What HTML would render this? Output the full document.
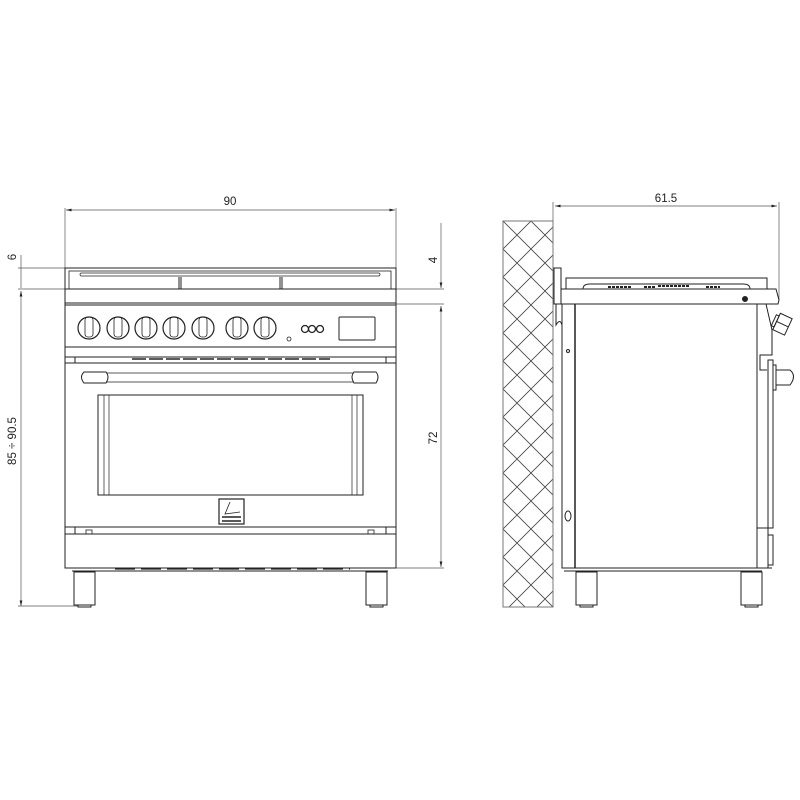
<!DOCTYPE html>
<html><head><style>body{margin:0;background:#fff}svg{display:block}</style></head>
<body>
<svg width="800" height="800" viewBox="0 0 800 800" xmlns="http://www.w3.org/2000/svg" font-family="Liberation Sans, sans-serif" font-size="11.5" fill="none" stroke="#222" stroke-width="1">
<defs>
<pattern id="h" width="28" height="28" patternUnits="userSpaceOnUse" x="503" y="221">
<path d="M0 0L28 28M28 0L0 28" stroke="#444" stroke-width="0.8"/>
</pattern>
<marker id="a" markerWidth="8" markerHeight="6" refX="8" refY="3" orient="auto-start-reverse"><path d="M0 1L8 3L0 5z" fill="#222" stroke="none"/></marker>
</defs>
<g stroke="#555" stroke-width="0.7">
<line x1="65" y1="208" x2="65" y2="268"/><line x1="396" y1="208" x2="396" y2="268"/>
<line x1="66" y1="210" x2="395" y2="210" marker-start="url(#a)" marker-end="url(#a)"/>
<line x1="21" y1="255" x2="21" y2="288"/>
<line x1="18" y1="268" x2="65" y2="268"/><line x1="18" y1="289" x2="65" y2="289"/>
<line x1="21" y1="291" x2="21" y2="606" marker-start="url(#a)" marker-end="url(#a)"/>
<line x1="18" y1="606" x2="78" y2="606"/>
<line x1="441" y1="223" x2="441" y2="288" marker-end="url(#a)"/>
<line x1="396" y1="289" x2="444" y2="289"/><line x1="396" y1="304" x2="444" y2="304"/>
<line x1="441" y1="306" x2="441" y2="567" marker-start="url(#a)" marker-end="url(#a)"/>
<line x1="396" y1="568" x2="444" y2="568"/>
</g>
<g fill="#222" stroke="none">
<text x="230" y="205" text-anchor="middle">90</text>
<text transform="translate(16,257) rotate(-90)" text-anchor="middle">6</text>
<text transform="translate(16,441) rotate(-90)" text-anchor="middle">85 ÷ 90.5</text>
<text transform="translate(437,260) rotate(-90)" text-anchor="middle">4</text>
<text transform="translate(437,438) rotate(-90)" text-anchor="middle">72</text>
<text x="666" y="202" text-anchor="middle">61.5</text>
</g>
<rect x="65" y="268" width="331" height="300"/>
<rect x="69" y="271" width="322" height="18" stroke-width="0.8"/>
<rect x="80" y="273" width="300" height="3" rx="1.5" stroke-width="0.7"/>
<line x1="179" y1="277" x2="179" y2="289"/><line x1="181" y1="277" x2="181" y2="289"/>
<line x1="280" y1="277" x2="280" y2="289"/><line x1="282" y1="277" x2="282" y2="289"/>
<line x1="65" y1="289" x2="396" y2="289"/>
<line x1="65" y1="303" x2="396" y2="303"/><line x1="65" y1="305" x2="396" y2="305"/>
<line x1="65" y1="347" x2="396" y2="347"/>
<g stroke-width="1.2">
<circle cx="89" cy="328" r="11"/><circle cx="118" cy="328" r="11"/><circle cx="146" cy="328" r="11"/><circle cx="174" cy="328" r="11"/><circle cx="203" cy="328" r="11"/><circle cx="237" cy="328" r="11"/><circle cx="265" cy="328" r="11"/>
</g>
<g stroke-width="0.8">
<rect x="85" y="317" width="8" height="20" rx="3"/><rect x="114" y="317" width="8" height="20" rx="3"/><rect x="142" y="317" width="8" height="20" rx="3"/><rect x="170" y="317" width="8" height="20" rx="3"/><rect x="199" y="317" width="8" height="20" rx="3"/><rect x="233" y="317" width="8" height="20" rx="3"/><rect x="261" y="317" width="8" height="20" rx="3"/>
</g>
<circle cx="305" cy="329" r="3.5" stroke-width="1.3"/><circle cx="312" cy="329" r="3.5" stroke-width="1.3"/><circle cx="320" cy="329" r="3.5" stroke-width="1.3"/>
<circle cx="289" cy="339" r="2" stroke-width="0.8"/>
<rect x="339" y="317" width="36" height="23" rx="1"/>
<line x1="65" y1="357" x2="396" y2="357"/><line x1="65" y1="363" x2="396" y2="363"/>
<line x1="75" y1="357" x2="75" y2="363"/><line x1="386" y1="357" x2="386" y2="363"/>
<line x1="132" y1="359" x2="330" y2="359" stroke-width="1.8" stroke="#444" stroke-dasharray="14,3"/>
<path d="M84 372H106Q110 377 106 383H84Q79 377 84 372Z"/>
<path d="M354 372H376Q380 377 376 383H354Q350 377 354 372Z"/>
<line x1="106" y1="373" x2="354" y2="373" stroke-width="0.7"/><line x1="106" y1="382" x2="354" y2="382" stroke-width="0.7"/>
<rect x="98" y="395" width="265" height="100"/>
<line x1="104" y1="395" x2="104" y2="495" stroke-width="0.7"/><line x1="109" y1="395" x2="109" y2="495" stroke-width="0.7"/>
<line x1="352" y1="395" x2="352" y2="495" stroke-width="0.7"/><line x1="357" y1="395" x2="357" y2="495" stroke-width="0.7"/>
<rect x="219" y="499" width="25" height="25" stroke-width="1.2"/>
<path d="M230 502L225 514L240 512" stroke-width="0.8"/>
<line x1="222" y1="517" x2="241" y2="517" stroke-width="1.5"/><line x1="222" y1="521" x2="241" y2="521" stroke-width="1.5"/>
<line x1="65" y1="527" x2="396" y2="527"/><line x1="65" y1="534" x2="396" y2="534"/>
<line x1="75" y1="527" x2="75" y2="534"/><line x1="386" y1="527" x2="386" y2="534"/>
<rect x="86" y="530" width="6" height="4" stroke-width="0.8"/><rect x="368" y="530" width="6" height="4" stroke-width="0.8"/>
<line x1="72" y1="571" x2="388" y2="571"/>
<line x1="115" y1="569" x2="350" y2="569" stroke-width="1.2" stroke-dasharray="20,6"/>
<rect x="74" y="572" width="21" height="33"/><rect x="366" y="572" width="21" height="33"/>
<rect x="78" y="605" width="13" height="2"/><rect x="370" y="605" width="13" height="2"/>
<rect x="503" y="221" width="50" height="386" fill="url(#h)" stroke="#777"/>
<line x1="553" y1="202" x2="553" y2="221" stroke="#555" stroke-width="0.7"/>
<line x1="779" y1="202" x2="779" y2="300" stroke="#555" stroke-width="0.7"/>
<line x1="555" y1="206" x2="777" y2="206" stroke="#555" stroke-width="0.7" marker-start="url(#a)" marker-end="url(#a)"/>
<rect x="554" y="268" width="7" height="36"/>
<path d="M566 289V278H767V289"/>
<path d="M583 289Q583 284 590 284H743Q750 284 750 289"/>
<line x1="658" y1="286" x2="690" y2="286" stroke-width="2" stroke-dasharray="3,1"/>
<line x1="608" y1="287" x2="632" y2="287" stroke-width="2" stroke-dasharray="3,1"/>
<line x1="644" y1="287" x2="656" y2="287" stroke-width="2" stroke-dasharray="3,1"/>
<line x1="706" y1="287" x2="720" y2="287" stroke-width="2" stroke-dasharray="3,1"/>
<path d="M561 289H776L779 300L778 304H561Z"/>
<circle cx="745" cy="299" r="2.5" fill="#222"/>
<rect x="562" y="304" width="13" height="264"/>
<line x1="575" y1="304" x2="575" y2="568" stroke-width="1.5"/>
<path d="M556 304V325Q560 318 562 325"/>
<circle cx="568" cy="351" r="1.5"/>
<ellipse cx="568" cy="516" rx="3" ry="5"/>
<line x1="757" y1="304" x2="757" y2="568"/>
<path d="M757 304H766L772 330V355H760V370H767"/>
<g transform="rotate(25 782 324)">
<rect x="776" y="315" width="13" height="18"/>
<line x1="776" y1="324" x2="789" y2="324"/>
<rect x="773" y="318" width="3" height="12"/>
</g>
<rect x="768" y="360" width="5" height="168"/>
<rect x="773" y="365" width="3" height="25"/>
<path d="M776 370H790Q797 376 790 385H776Z"/>
<rect x="768" y="535" width="5" height="30"/>
<path d="M757 528H768V568H757"/>
<line x1="562" y1="568" x2="772" y2="568"/>
<line x1="564" y1="571" x2="762" y2="571"/>
<rect x="576" y="572" width="21" height="33"/><rect x="741" y="572" width="21" height="33"/>
<rect x="580" y="605" width="13" height="2"/><rect x="745" y="605" width="13" height="2"/>
</svg>
</body></html>
